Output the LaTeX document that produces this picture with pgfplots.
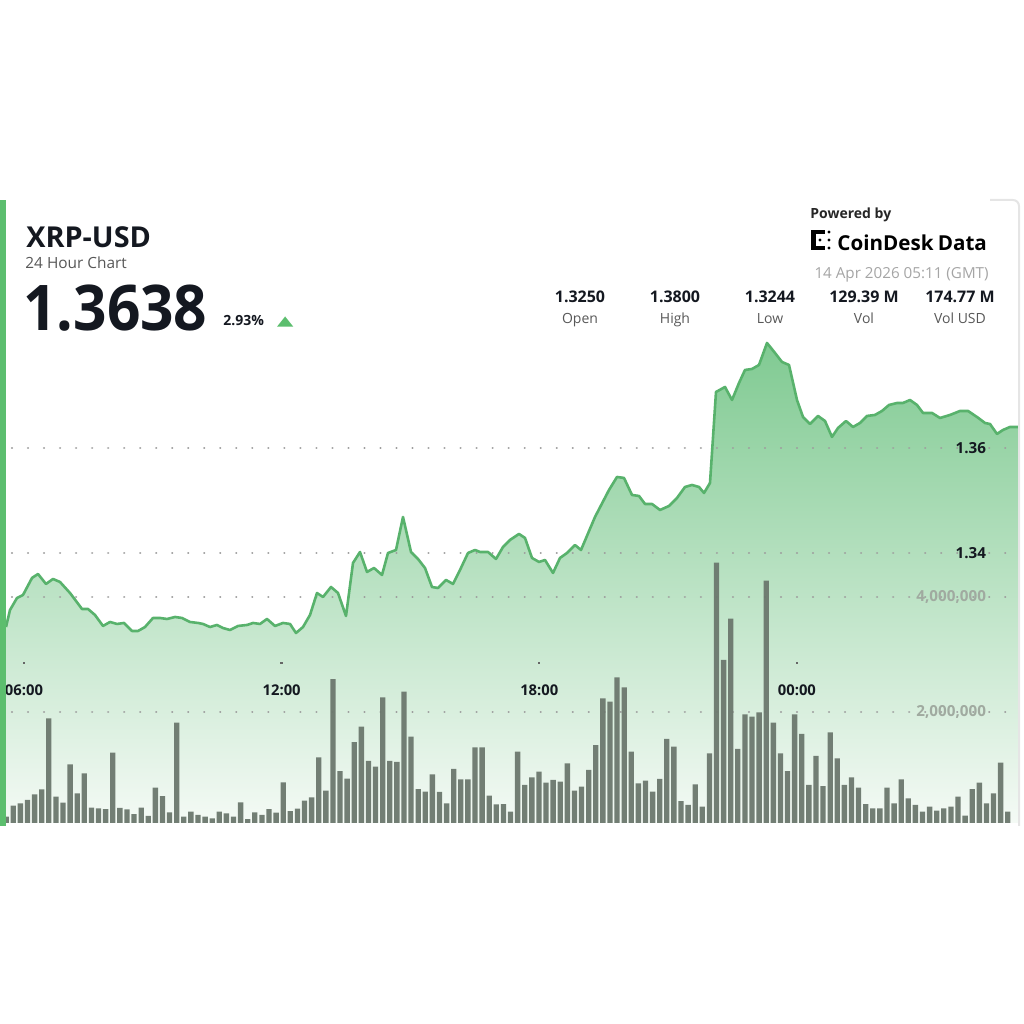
\documentclass[border=0pt]{standalone}
\usepackage{pgfplots}
\pgfplotsset{compat=1.18}
\usepackage{pgfplotstable}
\usepackage{graphicx}
\usepackage{fontspec}
\setmainfont{Open Sans}
\pgfplotsset{/pgf/number format/assume math mode=true}
\definecolor{lgreen}{RGB}{88,178,108}
\definecolor{sidegreen}{RGB}{92,190,110}
\definecolor{barcol}{RGB}{108,120,110}
\definecolor{ftop}{RGB}{128,202,146}
\definecolor{fmid}{RGB}{198,232,205}
\definecolor{fbot}{RGB}{244,250,245}
\definecolor{darktxt}{RGB}{20,24,32}
\definecolor{subtxt}{RGB}{88,88,88}
\definecolor{datetxt}{RGB}{165,165,165}
\definecolor{voltick}{RGB}{160,170,160}
\newcommand{\fs}[1]{\fontsize{#1}{#1}\selectfont}

\pgfplotstableread{
h p
5.5808 1.32590
5.6740 1.32914
5.8370 1.33143
5.9767 1.33200
6.1863 1.33524
6.3260 1.33600
6.5123 1.33410
6.6754 1.33505
6.8384 1.33448
7.0712 1.33238
7.3507 1.32933
7.4904 1.32933
7.6534 1.32819
7.8398 1.32610
8.0028 1.32686
8.1658 1.32648
8.3288 1.32667
8.5151 1.32514
8.6548 1.32514
8.8178 1.32590
9.0042 1.32762
9.1672 1.32762
9.3302 1.32743
9.5165 1.32781
9.6795 1.32762
9.8658 1.32686
10.0521 1.32667
10.1686 1.32648
10.3316 1.32590
10.4946 1.32629
10.6343 1.32571
10.7974 1.32533
10.9837 1.32610
11.1933 1.32629
11.3330 1.32667
11.4960 1.32648
11.6590 1.32743
11.8454 1.32610
12.0317 1.32667
12.1947 1.32648
12.3344 1.32476
12.4974 1.32590
12.6604 1.32819
12.8235 1.33238
12.9632 1.33162
13.1495 1.33352
13.3125 1.33238
13.4988 1.32800
13.6619 1.33810
13.8249 1.34019
13.9879 1.33638
14.1509 1.33714
14.3372 1.33581
14.4769 1.34000
14.6632 1.34057
14.8263 1.34686
15.0126 1.34019
15.1756 1.33886
15.3386 1.33714
15.5016 1.33352
15.6414 1.33333
15.8277 1.33486
15.9907 1.33410
16.1537 1.33676
16.3400 1.34000
16.5030 1.34057
16.6195 1.34019
16.8058 1.34019
16.9921 1.33886
17.1551 1.34114
17.3181 1.34248
17.5277 1.34362
17.6674 1.34286
17.8304 1.33905
17.9935 1.33829
18.1332 1.33867
18.3195 1.33619
18.4825 1.33905
18.6455 1.34000
18.8318 1.34152
18.9716 1.34057
19.2976 1.34686
19.6236 1.35200
19.8099 1.35448
19.9729 1.35429
20.1593 1.35105
20.3223 1.35086
20.4620 1.34933
20.6250 1.34933
20.8113 1.34819
21.0209 1.34895
21.2072 1.35048
21.3935 1.35257
21.5565 1.35295
21.7196 1.35257
21.8360 1.35143
21.9757 1.35333
22.1155 1.37067
22.3251 1.37162
22.4881 1.36914
22.6511 1.37238
22.7908 1.37486
22.9538 1.37505
23.1168 1.37581
23.3032 1.38000
23.4895 1.37810
23.6525 1.37638
23.8155 1.37581
24.0018 1.36914
24.1416 1.36590
24.3046 1.36457
24.4909 1.36610
24.6539 1.36514
24.8169 1.36210
24.9567 1.36381
25.1430 1.36514
25.3060 1.36400
25.4690 1.36476
25.6320 1.36610
25.8183 1.36629
25.9814 1.36705
26.1444 1.36819
26.3307 1.36857
26.4704 1.36857
26.6334 1.36914
26.7964 1.36819
26.9362 1.36667
27.1458 1.36667
27.3321 1.36571
27.5650 1.36629
27.7978 1.36705
27.9841 1.36705
28.1937 1.36590
28.3800 1.36476
28.4965 1.36457
28.6595 1.36267
28.7992 1.36343
28.9622 1.36400
29.1486 1.36400
}\pricetab

\pgfplotstableread{
i v
0 184000
1 376000
2 417000
3 475000
4 574000
5 661000
6 1896000
7 532000
8 428000
9 1096000
10 591000
11 939000
12 341000
13 330000
14 318000
15 1297000
16 336000
17 313000
18 231000
19 341000
20 197000
21 689000
22 544000
23 261000
24 1819000
25 184000
26 271000
27 214000
28 184000
29 157000
30 271000
31 243000
32 184000
33 435000
34 144000
35 261000
36 214000
37 318000
38 254000
39 783000
40 283000
41 323000
42 463000
43 522000
44 1217000
45 637000
46 2579000
47 979000
48 845000
49 1483000
50 1750000
51 1153000
52 1054000
53 2261000
54 1153000
55 1136000
56 2358000
57 1576000
58 666000
59 619000
60 922000
61 614000
62 417000
63 1014000
64 835000
65 835000
66 1391000
67 1391000
68 550000
69 400000
70 405000
71 271000
72 1315000
73 736000
74 870000
75 967000
76 776000
77 823000
78 793000
79 1113000
80 637000
81 706000
82 997000
83 1431000
84 2243000
85 2184000
86 2609000
87 2435000
88 1315000
89 765000
90 810000
91 619000
92 840000
93 1536000
94 1402000
95 457000
96 388000
97 748000
98 358000
99 1287000
100 4602000
101 2910000
102 3628000
103 1362000
104 1965000
105 1923000
106 2000000
107 4289000
108 1819000
109 1287000
110 979000
111 1965000
112 1623000
113 736000
114 1240000
115 718000
116 1652000
117 1200000
118 736000
119 870000
120 689000
121 405000
122 330000
123 330000
124 689000
125 417000
126 835000
127 504000
128 388000
129 271000
130 358000
131 289000
132 330000
133 358000
134 532000
135 202000
136 666000
137 776000
138 417000
139 591000
140 1123000
141 271000
}\voltab

\pgfplotsset{
  chartbox/.style={
    at={(3pt,100.5pt)}, anchor=south west, scale only axis,
    width=506pt, height=246.5pt, xmin=5.5808, xmax=29.1486,
  },
  dotgrid/.style={
    ymajorgrids,
    major grid style={line width=1.15pt, line cap=round, dash pattern=on 0.01pt off 8pt, dash phase=5pt, black!38},
  },
}

\begin{document}
\begin{tikzpicture}
\useasboundingbox (0,0) rectangle (512pt,512pt);
\begin{scope}[x=0.5pt,y=0.5pt]
\fill[white] (0,198) rectangle (1019,824);
\end{scope}

% area fill (price scale)
\begin{axis}[chartbox, hide axis, ymin=1.288571, ymax=1.382476]
\addplot[draw=none, top color=ftop, middle color=fmid, bottom color=fbot]
  table[x=h, y=p]{\pricetab} |- (axis cs:5.5808,1.288571) -- cycle;
\end{axis}

% volume bars
\begin{axis}[chartbox, ymin=74781, ymax=8648540,
  axis line style={draw=none}, tick style={draw=none},
  xtick=\empty, ytick={2000000,4000000}, yticklabel pos=right,
  dotgrid, scaled y ticks=false,
  yticklabel={\pgfmathprintnumber[fixed,precision=0,1000 sep={,}]{\tick}},
  yticklabel style={anchor=east, xshift=-12.5pt, font=\fs{7.6}\bfseries, text=voltick}]
\addplot[ybar, bar width=0.124, fill=barcol, draw=none, fill opacity=0.95]
  table[x expr=5.5855+0.16542*\thisrow{i}, y=v]{\voltab};
\end{axis}

% price line
\begin{axis}[chartbox, ymin=1.288571, ymax=1.382476,
  axis line style={draw=none}, tick style={draw=none},
  xtick=\empty, ytick={1.34,1.36}, yticklabel pos=right, dotgrid,
  yticklabel style={/pgf/number format/.cd, fixed, fixed zerofill, precision=2, /tikz/.cd,
    anchor=east, xshift=-12.5pt, font=\fs{7.6}\bfseries, text=darktxt}]
\addplot[lgreen, line width=1.3pt, line join=round] table[x=h, y=p]{\pricetab};
\end{axis}

% time ticks
\begin{axis}[at={(3pt,180pt)}, anchor=south west, scale only axis,
  width=506pt, height=150pt, xmin=5.5808, xmax=29.1486, ymin=0, ymax=1,
  axis line style={draw=none}, ytick=\empty,
  xtick={6,12,18,24}, xticklabels={06:00,12:00,18:00,00:00},
  xtick pos=bottom, tick align=inside, major tick length=1pt,
  xtick style={line width=1.2pt, black!60},
  xticklabel style={anchor=center, yshift=-13pt, font=\fs{7.4}\bfseries, text=darktxt}]
\addplot[draw=none] coordinates {(6,0.5)};
\end{axis}

\begin{scope}[x=0.5pt,y=0.5pt]
% left accent bar and card edge
\fill[sidegreen] (0,198) rectangle (6,824);
\draw[black!10, line width=1] (990,824) -- (1013,824) arc[start angle=90, end angle=0, radius=6] -- (1019,198);
% title block
\node[anchor=base west, inner sep=0, text=darktxt] at (26,776) {\fs{14.4}\bfseries XRP-USD};
\node[anchor=base west, inner sep=0, text=subtxt] at (25,755) {\fs{7.7}24 Hour Chart};
\node[anchor=base west, inner sep=0, text=darktxt] at (23,693) {\scalebox{0.93}[1]{\fs{31.5}\bfseries 1.3638}};
\node[anchor=base west, inner sep=0, text=darktxt] at (223,698) {\fs{7}\bfseries 2.93\%};
\fill[sidegreen] (277,697.3) -- (293.3,697.3) -- (285.1,707.5) -- cycle;
% branding
\node[anchor=base west, inner sep=0, text=black!85] at (810,805.5) {\fs{7}\bfseries Powered by};
\fill[black] (811,774) rectangle (816,794);
\fill[black] (811,790) rectangle (825,794);
\fill[black] (811,774) rectangle (825,778);
\fill[black] (820,784) circle (1.6);
\fill[black] (829,792) circle (1.6);
\fill[black] (829,784) circle (1.6);
\fill[black] (829,776) circle (1.6);
\node[anchor=base west, inner sep=0, text=black] at (837,773) {\fs{10.3}\bfseries CoinDesk\kern-0.5pt\ Data};
\node[anchor=base east, inner sep=0, text=datetxt] at (989,745) {\fs{7.6}14 Apr 2026 05:11 (GMT)};
% stats
\foreach \xx/\val/\lab in {580/1.3250/Open, 675/1.3800/High, 770/1.3244/Low, 864/129.39 M/Vol, 960/174.77 M/Vol USD}{
  \node[anchor=base, inner sep=0, text=darktxt] at (\xx,721.7) {\fs{8}\bfseries \val};
  \node[anchor=base, inner sep=0, text=subtxt] at (\xx,700) {\fs{7}\lab};
}
\end{scope}
\end{tikzpicture}
\end{document}
